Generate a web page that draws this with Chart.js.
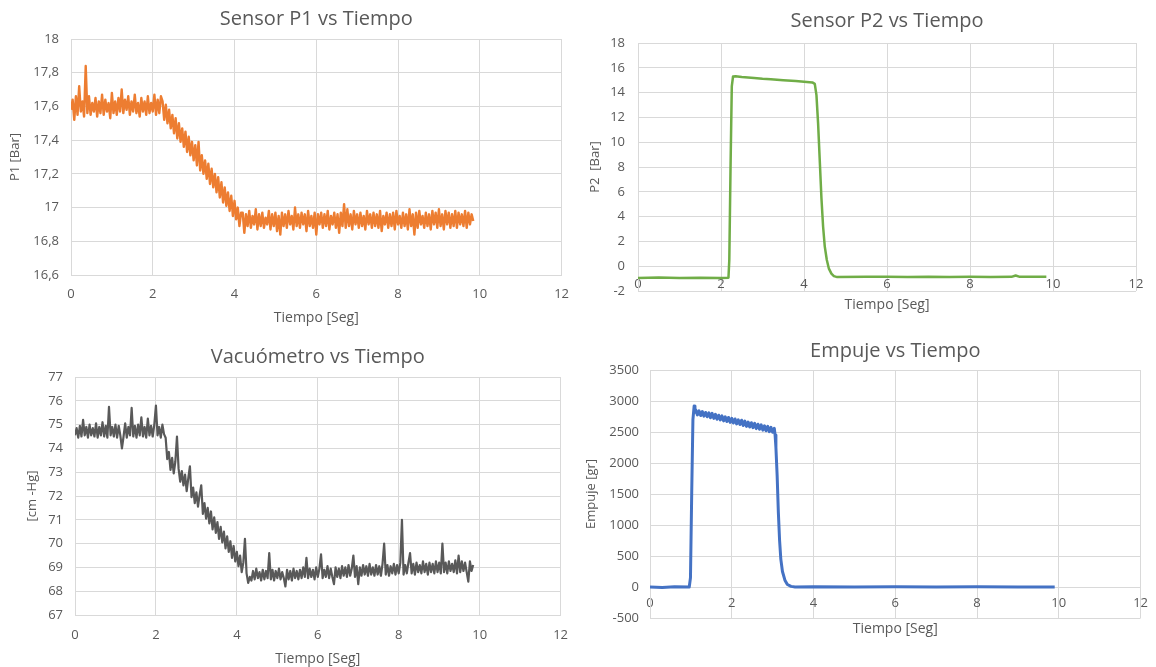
<!DOCTYPE html>
<html>
<head>
<meta charset="utf-8">
<script src="https://cdn.jsdelivr.net/npm/chart.js@4.4.1/dist/chart.umd.min.js"></script>
<style>
  html, body { margin: 0; padding: 0; background: #fff; }
  body { width: 1156px; height: 667px; position: relative; overflow: hidden; }
  .panel { position: absolute; }
  .panel canvas { display: block; }
</style>
</head>
<body>
<div class="panel" style="left:0;top:0;width:580px;height:333px"><canvas id="p1Chart" width="580" height="333"></canvas></div>
<div class="panel" style="left:580px;top:0;width:576px;height:333px"><canvas id="p2Chart" width="576" height="333"></canvas></div>
<div class="panel" style="left:0;top:335px;width:580px;height:332px"><canvas id="vacChart" width="580" height="332"></canvas></div>
<div class="panel" style="left:580px;top:335px;width:576px;height:332px"><canvas id="thrustChart" width="576" height="332"></canvas></div>

<script>
// P1 and vacuum readings are logged every 0.04 s starting at t = 0
const sampleStep = 0.04;

// Sensor P1 [Bar]
const p1Values = [
  // 0 - 2.2 s, steady
  17.58, 17.64, 17.52, 17.66, 17.55, 17.72, 17.57, 17.63, 17.54, 17.84,
  17.56, 17.66, 17.55, 17.62, 17.57, 17.65, 17.54, 17.63, 17.56, 17.67,
  17.55, 17.64, 17.57, 17.62, 17.53, 17.68, 17.56, 17.63, 17.55, 17.65,
  17.57, 17.70, 17.56, 17.64, 17.58, 17.66, 17.55, 17.63, 17.57, 17.67,
  17.56, 17.62, 17.54, 17.65, 17.57, 17.63, 17.55, 17.66, 17.56, 17.62,
  17.57, 17.67, 17.55, 17.64, 17.56, 17.66,
  // 2.24 - 4.16 s, falling
  17.63, 17.52, 17.61, 17.50, 17.58, 17.47, 17.55, 17.44, 17.53, 17.41,
  17.50, 17.39, 17.47, 17.36, 17.45, 17.33, 17.42, 17.31, 17.39, 17.28,
  17.37, 17.25, 17.39, 17.22, 17.31, 17.20, 17.28, 17.17, 17.26, 17.14,
  17.23, 17.12, 17.20, 17.09, 17.18, 17.06, 17.15, 17.03, 17.12, 17.01,
  17.09, 16.98, 17.07, 16.95, 17.04, 16.93, 17.00, 16.89, 16.97,
  // 4.2 - 9.84 s, steady
  16.97, 16.85, 16.96, 16.89, 16.98, 16.88, 16.95, 16.90, 16.99, 16.87,
  16.96, 16.89, 16.97, 16.88, 16.94, 16.90, 16.98, 16.87, 16.96, 16.89,
  16.97, 16.86, 16.95, 16.84, 16.97, 16.89, 16.96, 16.88, 16.98, 16.90,
  16.95, 16.87, 17.00, 16.89, 16.96, 16.88, 16.97, 16.90, 16.96, 16.86,
  16.98, 16.89, 16.95, 16.88, 16.97, 16.84, 16.96, 16.90, 16.97, 16.88,
  16.96, 16.89, 16.98, 16.87, 16.95, 16.90, 16.97, 16.88, 16.96, 16.85,
  16.97, 16.89, 17.02, 16.88, 16.99, 16.89, 16.96, 16.87, 16.98, 16.90,
  16.96, 16.88, 16.97, 16.89, 16.95, 16.87, 16.98, 16.90, 16.96, 16.88,
  16.97, 16.89, 16.96, 16.88, 16.98, 16.86, 16.95, 16.90, 16.97, 16.88,
  16.96, 16.89, 16.97, 16.87, 16.98, 16.90, 16.95, 16.88, 16.97, 16.89,
  16.96, 16.87, 16.99, 16.89, 16.96, 16.84, 16.97, 16.88, 16.98, 16.90,
  16.95, 16.88, 16.97, 16.89, 16.96, 16.87, 16.98, 16.90, 16.97, 16.88,
  16.99, 16.89, 16.96, 16.87, 16.98, 16.90, 16.97, 16.88, 16.96, 16.89,
  16.98, 16.88, 16.97, 16.90, 16.96, 16.89, 16.98, 16.88, 16.97, 16.90,
  16.96, 16.92
];

// Vacuometro [cm-Hg]
const vacValues = [
  // 0 - 2.2 s
  74.55, 74.85, 74.45, 74.95, 74.50, 75.20, 74.55, 74.90, 74.45, 75.00,
  74.55, 74.85, 74.50, 75.05, 74.45, 74.90, 74.55, 75.10, 74.50, 74.95,
  74.45, 75.75, 74.55, 74.90, 74.50, 75.00, 74.45, 74.95, 74.55, 74.00,
  74.50, 75.05, 74.45, 74.90, 74.55, 75.70, 74.50, 74.95, 74.45, 75.00,
  74.55, 75.30, 74.50, 74.90, 74.45, 75.25, 74.55, 74.95, 74.50, 75.00,
  75.80, 74.55, 74.90, 74.45, 75.00, 74.60,
  // 2.24 - 4.32 s
  74.45, 73.55, 73.85, 73.10, 73.60, 72.95, 73.45, 74.50, 73.15, 72.60,
  73.05, 72.45, 72.90, 72.20, 72.75, 73.25, 71.95, 72.35, 71.70, 72.15,
  71.55, 72.05, 72.45, 71.25, 71.70, 71.05, 71.50, 70.85, 71.35, 70.60,
  71.10, 70.45, 70.90, 70.20, 70.70, 70.05, 70.50, 69.80, 70.30, 69.65,
  70.10, 69.40, 69.90, 69.25, 69.65, 69.05, 69.50, 68.80, 69.20, 70.20,
  68.75, 68.35, 68.60,
  // 4.36 - 9.84 s
  68.45, 68.85, 68.50, 68.95, 68.55, 68.80, 68.45, 68.90, 68.50, 68.85,
  68.55, 69.60, 68.50, 68.90, 68.45, 68.85, 68.55, 68.95, 68.50, 68.80,
  68.55, 68.20, 68.90, 68.50, 68.85, 68.45, 68.95, 68.55, 68.85, 68.50,
  68.90, 68.55, 69.00, 68.60, 69.40, 68.55, 68.95, 68.60, 68.90, 68.50,
  69.00, 68.60, 68.95, 69.55, 68.55, 68.90, 68.60, 69.05, 68.55, 68.95,
  68.60, 68.30, 69.00, 68.60, 68.95, 68.55, 69.05, 68.65, 69.00, 68.60,
  69.10, 68.65, 68.95, 69.50, 68.60, 69.05, 68.30, 69.00, 68.65, 69.10,
  68.70, 69.05, 68.65, 69.15, 68.70, 69.00, 68.65, 69.10, 68.70, 69.05,
  68.65, 69.15, 70.00, 68.70, 69.10, 68.65, 69.05, 68.75, 69.15, 68.70,
  69.10, 68.75, 69.20, 71.00, 68.70, 69.10, 68.75, 69.20, 69.60, 68.75,
  69.15, 68.70, 69.20, 68.80, 69.10, 68.75, 69.25, 68.80, 69.15, 68.70,
  69.20, 68.80, 69.15, 68.75, 69.25, 68.80, 69.20, 68.75, 70.00, 68.80,
  69.20, 68.75, 69.25, 68.85, 69.15, 68.80, 69.30, 68.75, 69.50, 68.80,
  69.25, 68.85, 69.20, 68.80, 68.40, 69.25, 68.85, 69.10
];

// Sensor P2 [Bar]
const p2Time = [
  0, 0.5, 1.0, 1.5, 2.0, 2.18,
  2.20, 2.23, 2.26, 2.29, 2.35,
  2.5, 2.8, 3.0, 3.2, 3.5, 3.8, 4.0, 4.2, 4.26,
  4.30, 4.34, 4.38, 4.42, 4.46, 4.50, 4.55, 4.60, 4.66, 4.72, 4.80,
  5.5, 6.0, 6.5, 7.0, 7.5, 8.0, 8.5, 9.0, 9.1, 9.2, 9.84
];
const p2Values = [
  -0.95, -0.92, -0.96, -0.93, -0.95, -0.93,
  0.5, 8.0, 14.5, 15.3, 15.32,
  15.25, 15.18, 15.12, 15.08, 15.0, 14.93, 14.88, 14.82, 14.7,
  13.8, 11.5, 8.5, 5.5, 3.2, 1.6, 0.5, -0.2, -0.6, -0.8, -0.88,
  -0.86, -0.85, -0.88, -0.85, -0.87, -0.86, -0.88, -0.86, -0.75, -0.86, -0.85
];

// Empuje [gr]
const thrustTime = [
  0, 0.3, 0.6, 0.96,
  0.99, 1.02, 1.05, 1.08, 1.10,
  1.12, 1.16, 1.20, 1.24, 1.28, 1.32, 1.36, 1.40, 1.44, 1.48,
  1.52, 1.56, 1.60, 1.64, 1.68, 1.72, 1.76, 1.80, 1.84, 1.88,
  1.92, 1.96, 2.00, 2.04, 2.08, 2.12, 2.16, 2.20, 2.24, 2.28,
  2.32, 2.36, 2.40, 2.44, 2.48, 2.52, 2.56, 2.60, 2.64, 2.68,
  2.72, 2.76, 2.80, 2.84, 2.88, 2.92, 2.96, 3.00, 3.04,
  3.06, 3.08, 3.11, 3.14, 3.17, 3.20, 3.24, 3.30, 3.36, 3.45, 3.55,
  4, 5, 6, 7, 8, 9, 9.9
];
const thrustValues = [
  0, -8, 5, 0,
  150, 1500, 2700, 2920, 2820,
  2855, 2775, 2840, 2765, 2830, 2755, 2815, 2745, 2810, 2730,
  2800, 2720, 2785, 2705, 2770, 2695, 2760, 2680, 2745, 2670,
  2735, 2655, 2720, 2645, 2710, 2630, 2695, 2620, 2690, 2605,
  2675, 2590, 2660, 2580, 2650, 2570, 2640, 2555, 2625, 2545,
  2615, 2530, 2600, 2520, 2590, 2505, 2575, 2495, 2560,
  2450, 2250, 1800, 1200, 750, 450, 250, 110, 40, 10, 0,
  5, 0, 4, 0, 3, 0, 2
];

const GRID = '#d9d9d9';
const TEXT = '#595959';
Chart.defaults.font.family = '"Open Sans", sans-serif';
Chart.defaults.color = TEXT;

const fmt = v => String(+Number(v).toFixed(1)).replace('.', ',');
const fromSteps = vals => vals.map((v, i) => ({ x: +(i * sampleStep).toFixed(2), y: v }));
const fromPairs = (ts, vals) => ts.map((t, i) => ({ x: t, y: vals[i] }));

function buildChart(id, o) {
  const x = {
    type: 'linear', min: 0, max: 12,
    ticks: { stepSize: 2, padding: o.xTickPad, font: { size: 13 }, callback: fmt },
    grid: { color: GRID, drawTicks: false },
    border: { color: GRID },
    title: { display: true, text: 'Tiempo [Seg]', font: { size: 14 }, padding: o.xTitlePad }
  };
  if (o.xAtZero) {
    x.position = { y: 0 };
  } else {
    x.afterFit = s => { s.height = o.xHeight; };
  }

  return new Chart(document.getElementById(id), {
    type: 'line',
    data: {
      datasets: [{
        data: o.points,
        borderColor: o.color,
        borderWidth: o.lineWidth,
        borderJoinStyle: 'round',
        pointRadius: 0,
        tension: 0
      }]
    },
    options: {
      responsive: false,
      animation: false,
      events: [],
      layout: { padding: o.padding },
      plugins: {
        legend: { display: false },
        tooltip: { enabled: false },
        title: {
          display: true, text: o.title, fullSize: false, color: TEXT,
          font: { size: 20, weight: 'normal' }, padding: o.titlePad
        }
      },
      scales: {
        x,
        y: {
          min: o.yMin, max: o.yMax,
          ticks: { stepSize: o.yStep, padding: o.yTickPad, font: { size: 13 }, callback: fmt },
          grid: { color: GRID, drawTicks: false },
          border: { color: GRID },
          title: { display: true, text: o.yTitle, font: { size: 13 }, padding: { top: o.yTitlePad, bottom: 0 } },
          afterFit: s => { s.width = o.yWidth; }
        }
      }
    }
  });
}

buildChart('p1Chart', {
  points: fromSteps(p1Values), color: '#ed7d31', lineWidth: 2.4,
  title: 'Sensor P1 vs Tiempo', titlePad: { top: 7, bottom: 8 },
  yTitle: 'P1 [Bar]', yTitlePad: 7, yMin: 16.6, yMax: 18, yStep: 0.2, yWidth: 71, yTickPad: 12,
  xTickPad: 11, xTitlePad: { top: 0, bottom: 6.6 }, xHeight: 58,
  padding: { left: 0, right: 13, top: 0, bottom: 0 }
});

buildChart('p2Chart', {
  points: fromPairs(p2Time, p2Values), color: '#70ad47', lineWidth: 2.5,
  title: 'Sensor P2 vs Tiempo', titlePad: { top: 9, bottom: 10 },
  yTitle: 'P2  [Bar]', yTitlePad: 7, yMin: -2, yMax: 18, yStep: 2, yWidth: 58, yTickPad: 13,
  xAtZero: true, xTickPad: 10, xTitlePad: { top: -5, bottom: 0 },
  padding: { left: 0, right: 20, top: 0, bottom: 42 }
});

buildChart('vacChart', {
  points: fromSteps(vacValues), color: '#595959', lineWidth: 2.2,
  title: 'Vacuómetro vs Tiempo', titlePad: { top: 10, bottom: 8 },
  yTitle: '[cm -Hg]', yTitlePad: 24, yMin: 67, yMax: 77, yStep: 1, yWidth: 75, yTickPad: 12,
  xTickPad: 12, xTitlePad: { top: 0, bottom: 0 }, xHeight: 52,
  padding: { left: 0, right: 13, top: 0, bottom: 0 }
});

buildChart('thrustChart', {
  points: fromPairs(thrustTime, thrustValues), color: '#4472c4', lineWidth: 3,
  title: 'Empuje vs Tiempo', titlePad: { top: 4, bottom: 7 },
  yTitle: 'Empuje [gr]', yTitlePad: 3, yMin: -500, yMax: 3500, yStep: 500, yWidth: 70, yTickPad: 11,
  xAtZero: true, xTickPad: 8, xTitlePad: { top: 2, bottom: 0 },
  padding: { left: 0, right: 6, top: 0, bottom: 49 }
});
</script>
</body>
</html>
